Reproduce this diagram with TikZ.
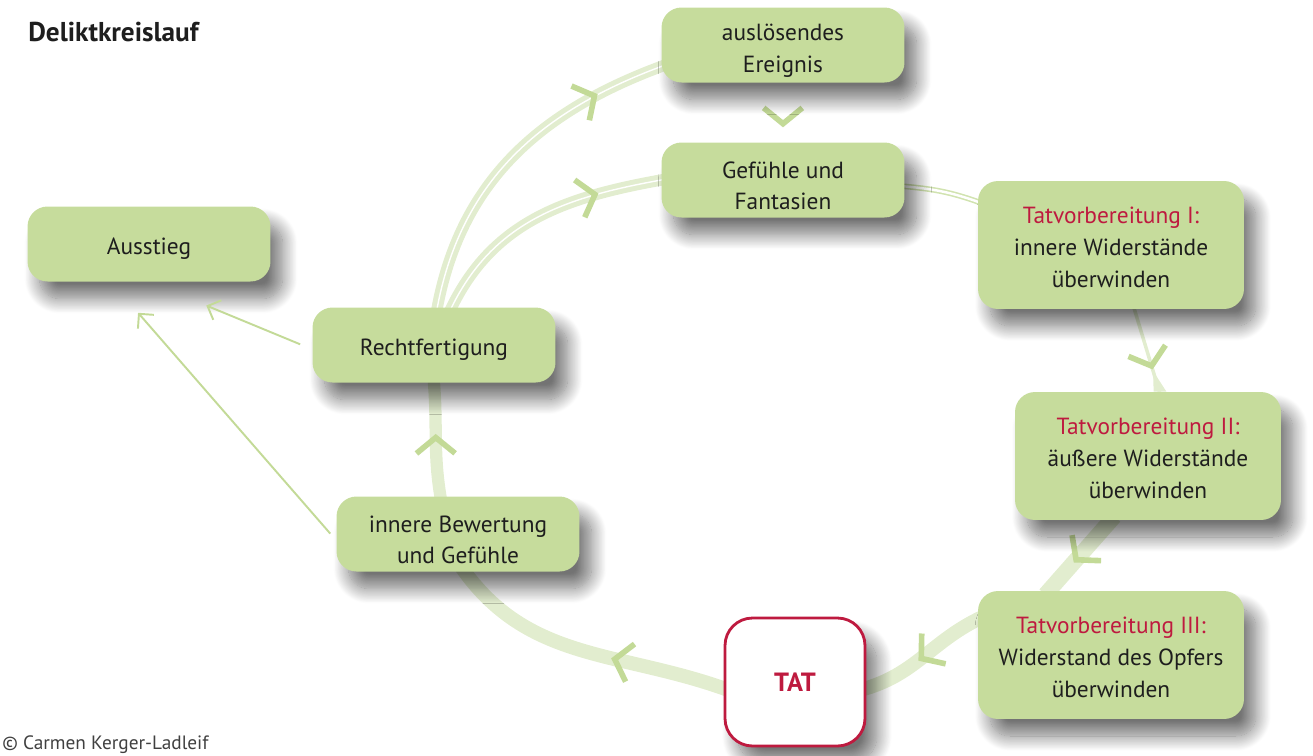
\documentclass[tikz,border=0pt]{standalone}
\usepackage{fontspec}
\setmainfont{PT Sans}
\usetikzlibrary{arrows.meta,decorations.markings,backgrounds,shadows.blur}
\definecolor{boxgreen}{HTML}{C6DC9C}
\definecolor{bandgreen}{HTML}{E2EDCF}
\definecolor{chevgreen}{HTML}{C3DA97}
\definecolor{tatred}{HTML}{BE1A3F}
\definecolor{textdark}{HTML}{1E1E1E}

\begin{document}
\begin{tikzpicture}[x=0.02cm,y=0.02cm,
	phase/.style={rectangle,rounded corners=0.4cm,fill=boxgreen,text=textdark,align=center,
		minimum width=4.86cm,minimum height=1.5cm,inner sep=2pt,font=\fontsize{13.3}{18}\selectfont,
		blur shadow={shadow xshift=0.24cm,shadow yshift=-0.34cm,shadow blur radius=0.3cm,
			shadow blur steps=20,shadow opacity=55}},
	bigphase/.style={phase,minimum width=5.32cm,minimum height=2.56cm},
	lift/.style={execute at begin node={\rule{0pt}{#1}}},
	band/.style={draw=bandgreen,line width=#1,shorten <=-3pt,shorten >=-3pt},
	strands/.style={draw=bandgreen,line width=6.5pt,shorten <=-3pt,shorten >=-3pt,
		postaction={draw=white,line width=0.8pt}},
	chev/.style={postaction={decorate,decoration={markings,mark=at position #1 with
		{\arrow{Straight Barb[length=9pt,width=22pt,line width=3.2pt,color=chevgreen]}}}}},
	exitline/.style={draw=chevgreen,line width=1.1pt,-{Straight Barb[length=6pt,width=12pt,line width=1.1pt]}}
	]
	\useasboundingbox (0,0) rectangle (1313,-755);

	\node[anchor=west,inner sep=0pt,text=textdark,font=\fontsize{15.5}{18}\selectfont\bfseries] (Titel) at (28,-32) {Deliktkreislauf};

	\node[phase,lift=34pt] (Ausloeser) at (783,-45) {auslösendes\\Ereignis};
	\node[phase,lift=34pt] (Gefuehle) at (783,-180) {Gefühle und\\Fantasien};
	\node[bigphase,lift=48pt] (TV1) at (1111,-245) {\textcolor{tatred}{Tatvorbereitung I:}\\innere Widerstände\\überwinden};
	\node[bigphase,lift=48pt] (TV2) at (1148,-456) {\textcolor{tatred}{Tatvorbereitung II:}\\äußere Widerstände\\überwinden};
	\node[bigphase,lift=48pt] (TV3) at (1111,-655) {\textcolor{tatred}{Tatvorbereitung III:}\\Widerstand des Opfers\\überwinden};
	\node[phase,fill=white,draw=tatred,line width=1.6pt,rounded corners=0.55cm,minimum width=2.8cm,
		minimum height=2.56cm,text=tatred,font=\fontsize{15}{18}\selectfont\bfseries] (Tat) at (795,-682) {TAT};
	\node[phase,lift=34pt] (Bewertung) at (458,-534) {innere Bewertung\\und Gefühle};
	\node[phase,lift=14.5pt] (Rechtf) at (434,-345) {Rechtfertigung};
	\node[phase,lift=14.5pt] (Ausstieg) at (149,-244) {Ausstieg};

	\node[anchor=west,inner sep=0pt,text=textdark!85,font=\fontsize{11}{12}\selectfont] (Copy) at (2,-745) {© Carmen Kerger-Ladleif};

	% the cycle
	\begin{scope}[on background layer]
		\path[chev=0.75] (Ausloeser) -- (Gefuehle);
		\draw[draw=boxgreen!80,line width=0.9pt,double=white,double distance=1.4pt,shorten <=-3pt,shorten >=-3pt] (Gefuehle.-3) to[out=-5,in=160] (TV1.162);
		\draw[band=2pt,chev=0.73] (TV1.-70) -- (TV2.80) coordinate[pos=0.75] (Keil);
		\fill[bandgreen] (Keil) -- (TV2.85) -- (TV2.74) -- cycle;
		\draw[band=9pt,chev=0.6] (TV2.-120) -- (TV3.134);
		\draw[band=8pt,chev=0.55] (TV3.165) to[out=205,in=15] (Tat.-5);
		\draw[band=8pt,chev=0.4] (Tat.185) to[out=160,in=-55] (Bewertung.-80);
		\draw[band=7pt,chev=0.55] (Bewertung.115) to[out=100,in=-85] (Rechtf.south);
		\draw[strands,chev=0.8] (Rechtf.85) to[out=80,in=200] (Ausloeser.190);
		\draw[strands,chev=0.75] (Rechtf.65) to[out=65,in=190] (Gefuehle.180);
	\end{scope}

	% ways out
	\draw[exitline,shorten <=0.26cm,shorten >=1.24cm] (Rechtf.182) -- (Ausstieg.south);
	\draw[exitline,shorten <=0.18cm,shorten >=0.82cm] (Bewertung.183) -- (Ausstieg.-135);
\end{tikzpicture}
\end{document}
